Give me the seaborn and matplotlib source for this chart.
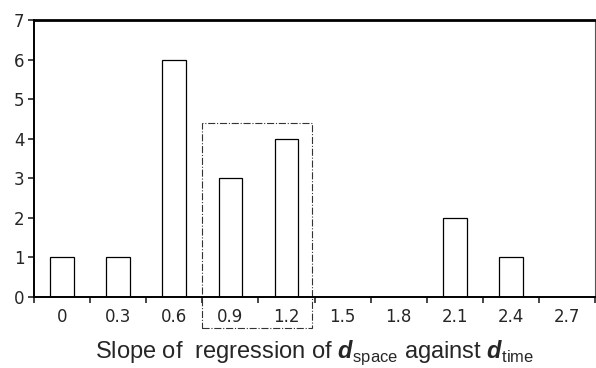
import matplotlib
matplotlib.use('Agg')
import matplotlib.pyplot as plt
import seaborn as sns
import pandas as pd
from matplotlib.patches import Rectangle
from matplotlib.ticker import FixedLocator

# slope bins and counts
slopes = ['0', '0.3', '0.6', '0.9', '1.2', '1.5', '1.8', '2.1', '2.4', '2.7']
counts = [1, 1, 6, 3, 4, 0, 0, 2, 1, 0]

df = pd.DataFrame({'Slope': slopes, 'Count': counts})

sns.set_style('white')
plt.rcParams['font.family'] = ['DejaVu Sans']
plt.rcParams['mathtext.fontset'] = 'custom'
plt.rcParams['mathtext.rm'] = 'Liberation Sans'
plt.rcParams['mathtext.bf'] = 'Liberation Sans:bold:italic'

fig = plt.figure(figsize=(5.96, 3.68), dpi=100)
ax = fig.add_axes([34 / 596, 1 - 297 / 368, 561 / 596, 277 / 368])

sns.barplot(x='Slope', y='Count', data=df, order=slopes, color='white',
            edgecolor='black', linewidth=0.9, width=0.42, ax=ax)

ax.set_xlim(-0.5, len(slopes) - 0.5)
ax.set_ylim(0, 7)
ax.set_yticks(range(0, 8))

# tick marks between bins, labels at the bin centres
ax.xaxis.set_minor_locator(FixedLocator([i - 0.5 for i in range(len(slopes) + 1)]))
ax.tick_params(axis='x', which='major', length=0, pad=8, labelsize=12)
ax.tick_params(axis='x', which='minor', length=4, width=1.2, direction='out', bottom=True)
ax.tick_params(axis='y', length=4, width=1.2, direction='out', left=True, pad=3, labelsize=12)

for s in ['left', 'bottom']:
    ax.spines[s].set_color('black')
    ax.spines[s].set_linewidth(1.4)
ax.spines['top'].set_color('black')
ax.spines['top'].set_linewidth(2)
ax.spines['right'].set_color('#555555')
ax.spines['right'].set_linewidth(0.8)

# dash-dot box around the 0.9 and 1.2 bins
box = Rectangle((2.5, -0.112), 1.95, 4.4 / 7 + 0.112, transform=ax.get_xaxis_transform(),
                fill=False, linestyle='-.', linewidth=0.8, edgecolor='#333333', clip_on=False)
ax.add_patch(box)

ax.set_ylabel('')
ax.set_xlabel(r'Slope of  regression of $\mathbf{d}_{\mathrm{space}}$ against $\mathbf{d}_{\mathrm{time}}$',
              fontsize=17, family='Liberation Sans', labelpad=9)

plt.savefig('out.png', dpi=100)
